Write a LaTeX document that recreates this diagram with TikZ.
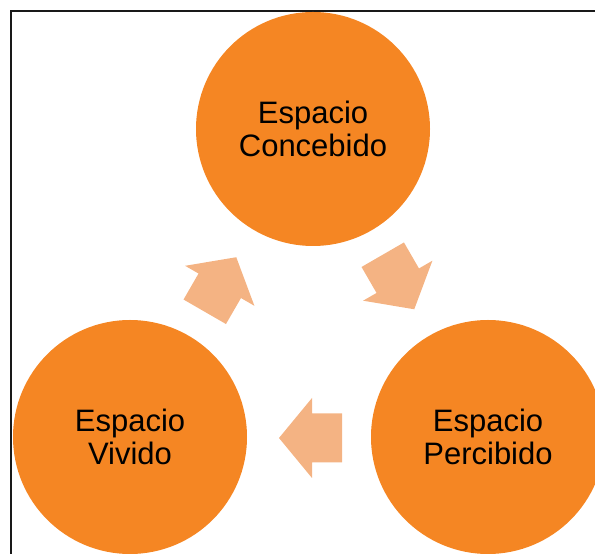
\documentclass[tikz,border=0pt]{standalone}
\usepackage{fontspec}
\setmainfont{Liberation Sans}
\usepackage{tikz}
\definecolor{espacio}{RGB}{245,134,35}
\definecolor{flecha}{RGB}{244,179,131}
\tikzset{espacio/.style={circle, fill=espacio, inner sep=0pt, minimum size=234pt, align=center, font=\fontsize{31}{33}\selectfont}}
\tikzset{flecha/.pic={\fill[flecha] (-31.5,-24.5) -- (-1.5,-24.5) -- (-1.5,-40) -- (31.5,0) -- (-1.5,40) -- (-1.5,24.5) -- (-31.5,24.5) -- cycle;}}

\begin{document}
\begin{tikzpicture}[x=1pt, y=1pt]
    \useasboundingbox (0,0) rectangle (595,554);
    \clip (0,0) rectangle (595,554);
    \draw[line width=1.3pt, black!90] (11,0) -- (11,543) -- (595,543);
    \node[espacio] (Ec) at (313, 425) {Espacio\\Concebido};
    \node[espacio] (Ev) at (130, 117) {Espacio\\Vivido};
    \node[espacio] (Ep) at (488, 117) {Espacio\\Percibido};
    \pic[rotate=-60] at (398.5, 272) {flecha};
    \pic[rotate=180] at (310.5, 116) {flecha};
    \pic[rotate=60] at (220.5, 269.5) {flecha};
  \end{tikzpicture}
\end{document}
